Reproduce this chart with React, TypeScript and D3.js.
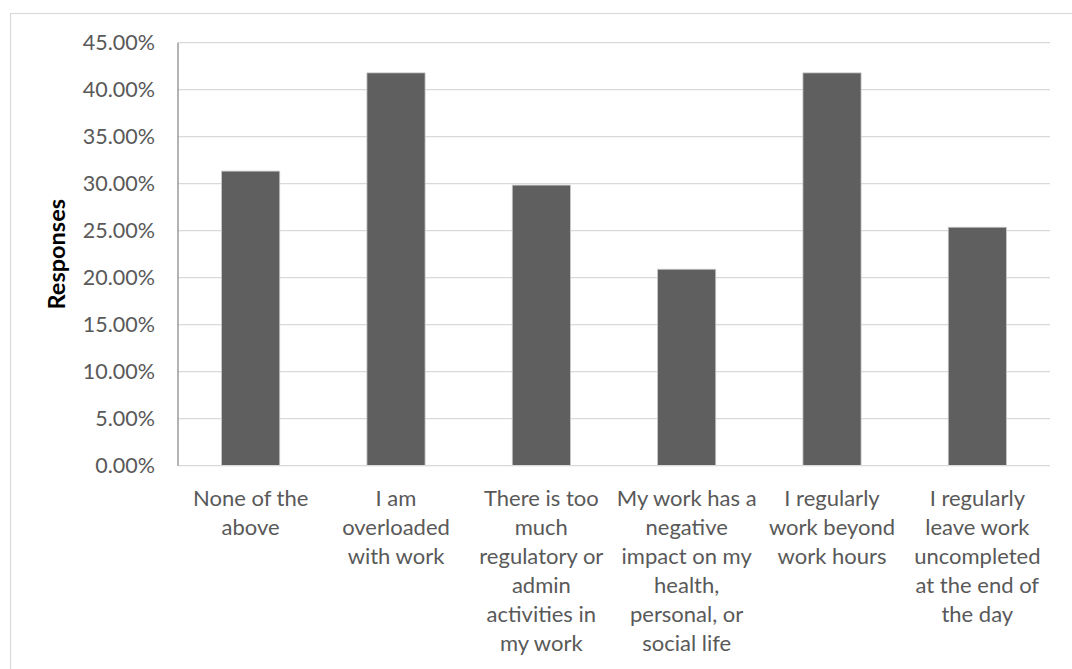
import React from "react";
import * as d3 from "d3";

const categories = [
  "None of the\nabove",
  "I am\noverloaded\nwith work",
  "There is too\nmuch\nregulatory or\nadmin\nactivities in\nmy work",
  "My work has a\nnegative\nimpact on my\nhealth,\npersonal, or\nsocial life",
  "I regularly\nwork beyond\nwork hours",
  "I regularly\nleave work\nuncompleted\nat the end of\nthe day",
];
const values = [0.3134, 0.4179, 0.2985, 0.209, 0.4179, 0.2537];
const yTicks = [0, 0.05, 0.1, 0.15, 0.2, 0.25, 0.3, 0.35, 0.4, 0.45];
const yTitle = "Responses";

const W = 1072;
const H = 669;
const FONT = "Lato, 'Open Sans', sans-serif";

export default function App() {
  const left = 178, right = 1050, top = 42.7, bottom = 465.7;
  const x = d3.scaleBand<string>().domain(categories).range([left, right]).paddingInner(0.6).paddingOuter(0.3);
  const y = d3.scaleLinear().domain([0, 0.45]).range([bottom, top]);
  const fmt = (v: number) => (v * 100).toFixed(2) + "%";
  return (
    <svg width={W} height={H} style={{ position: "absolute", left: 0, top: 0 }} xmlns="http://www.w3.org/2000/svg">
      <rect x={0} y={0} width={W} height={H} fill="#fff" />
      <rect x={10.5} y={13.5} width={W + 10} height={H + 10} fill="#fff" stroke="#d9d9d9" strokeWidth={1.2} />
      {yTicks.slice(1).map((t) => (
        <line key={t} x1={left} x2={right} y1={y(t)} y2={y(t)} stroke="#d9d9d9" strokeWidth={1.3} />
      ))}
      {categories.map((c, i) => (
        <rect key={c} x={x(c)} y={y(values[i])} width={x.bandwidth()} height={bottom - y(values[i])} fill="#5f5f5f" stroke="#c8c8c8" strokeWidth={0.8} />
      ))}
      <line x1={left} x2={right} y1={bottom} y2={bottom} stroke="#d9d9d9" strokeWidth={1.3} />
      <line x1={left} x2={left} y1={top} y2={bottom} stroke="#8c8c8c" strokeWidth={1.3} />
      {yTicks.map((t) => (
        <text key={t} x={155} y={y(t)} dy="0.36em" textAnchor="end" fontFamily={FONT} fontSize={21.5} fill="#595959">
          {fmt(t)}
        </text>
      ))}
      {categories.map((c) => (
        <text key={c} textAnchor="middle" fontFamily={FONT} fontSize={22} fill="#595959">
          {c.split("\n").map((ln, j) => (
            <tspan key={j} x={(x(c) as number) + x.bandwidth() / 2} y={506 + j * 29}>
              {ln}
            </tspan>
          ))}
        </text>
      ))}
      <text transform={`translate(65, ${(top + bottom) / 2}) rotate(-90)`} textAnchor="middle" fontFamily={FONT} fontSize={23.5} fontWeight="bold" fill="#000">
        {yTitle}
      </text>
    </svg>
  );
}
